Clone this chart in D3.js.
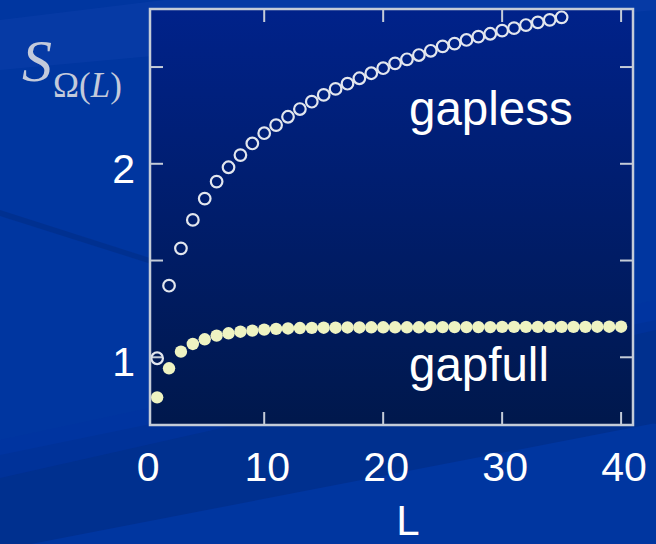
<!DOCTYPE html>
<html>
<head>
<meta charset="utf-8">
<script src="https://cdn.jsdelivr.net/npm/d3@7/dist/d3.min.js"></script>
<style>
  html, body { margin: 0; padding: 0; background: #0036a0; }
  svg { display: block; }
</style>
</head>
<body>
<div id="chart"></div>
<script>
// ---- data ----
const gaplessL = d3.range(1, 36);
const gaplessS = [0.995, 1.370, 1.563, 1.710, 1.820, 1.908, 1.982, 2.045, 2.105, 2.158,
                  2.200, 2.243, 2.283, 2.321, 2.356, 2.387, 2.414, 2.442, 2.468, 2.494,
                  2.519, 2.540, 2.562, 2.584, 2.607, 2.621, 2.640, 2.657, 2.672, 2.688,
                  2.701, 2.717, 2.731, 2.744, 2.757];
const gapfullL = d3.range(1, 41);
const gapfullS = [0.793, 0.943, 1.029, 1.069, 1.093, 1.112, 1.124, 1.132, 1.138, 1.143,
                  1.147, 1.149, 1.151, 1.152, 1.153, 1.153, 1.154, 1.154, 1.155, 1.155,
                  1.155, 1.155, 1.155, 1.156, 1.156, 1.156, 1.156, 1.156, 1.156, 1.157,
                  1.157, 1.157, 1.157, 1.157, 1.157, 1.157, 1.157, 1.158, 1.158, 1.158];
const xTicks = [0, 10, 20, 30, 40];
const xInnerTicks = [10, 20, 30, 40];
const yTickLabels = [1, 2];
const yInnerTicks = [1, 1.5, 2, 2.5];
const seriesLabels = ["gapless", "gapfull"];
const xTitle = "L";

const W = 656, H = 544;
const plot = { left: 150, right: 633, top: 9, bottom: 425 };

const x = d3.scaleLinear().domain([0.4, 41.0]).range([plot.left, plot.right]);
const y = d3.scaleLinear().domain([0.65, 2.80]).range([plot.bottom, plot.top]);

const svg = d3.select("#chart").append("svg").attr("width", W).attr("height", H);
const defs = svg.append("defs");

const pg = defs.append("linearGradient").attr("id", "plotGrad")
  .attr("x1", 0).attr("y1", 0).attr("x2", 0).attr("y2", 1);
pg.append("stop").attr("offset", "0%").attr("stop-color", "#00228a");
pg.append("stop").attr("offset", "100%").attr("stop-color", "#00184c");

const blur = defs.append("filter").attr("id", "soft");
blur.append("feGaussianBlur").attr("stdDeviation", 0.6);

// ---- slide background ----
svg.append("rect").attr("width", W).attr("height", H).attr("fill", "#0036a0");
const bands = svg.append("g");
bands.append("path").attr("d", "M0,20 L656,-60 L656,10 L0,70 Z").attr("fill", "#0a3ea8").attr("opacity", 0.6);
bands.append("path").attr("d", "M0,210 L656,420 L656,424 L0,216 Z").attr("fill", "#002f8c").attr("opacity", 0.8);
bands.append("path").attr("d", "M0,455 L656,320 L656,423 L0,550 Z").attr("fill", "#00308f");
bands.append("path").attr("d", "M0,440 L656,300 L656,330 L0,478 Z").attr("fill", "#0034a0").attr("opacity", 0.6);

// ---- plot area ----
svg.append("rect")
  .attr("x", plot.left).attr("y", plot.top)
  .attr("width", plot.right - plot.left).attr("height", plot.bottom - plot.top)
  .attr("fill", "url(#plotGrad)");

const frameColor = "#c4ccd8";
const tickLen = 13;
const axes = svg.append("g").attr("stroke", frameColor).attr("stroke-width", 2);
axes.selectAll(".tb").data(xInnerTicks).join("line")
  .attr("x1", d => x(d)).attr("x2", d => x(d))
  .attr("y1", plot.bottom).attr("y2", plot.bottom - tickLen);
axes.selectAll(".tt").data(xInnerTicks).join("line")
  .attr("x1", d => x(d)).attr("x2", d => x(d))
  .attr("y1", plot.top).attr("y2", plot.top + tickLen);
axes.selectAll(".tl").data(yInnerTicks).join("line")
  .attr("y1", d => y(d)).attr("y2", d => y(d))
  .attr("x1", plot.left).attr("x2", plot.left + tickLen);
axes.selectAll(".tr").data(yInnerTicks).join("line")
  .attr("y1", d => y(d)).attr("y2", d => y(d))
  .attr("x1", plot.right).attr("x2", plot.right - tickLen);

// ---- data marks ----
const marks = svg.append("g").attr("filter", "url(#soft)");
marks.selectAll(".gf").data(gapfullL).join("circle")
  .attr("cx", d => x(d)).attr("cy", (d, i) => y(gapfullS[i]))
  .attr("r", 6.2).attr("fill", "#eef3c2");
marks.selectAll(".gl").data(gaplessL).join("circle")
  .attr("cx", d => x(d)).attr("cy", (d, i) => y(gaplessS[i]))
  .attr("r", 5.8).attr("fill", "none").attr("stroke", "#e2e6ee").attr("stroke-width", 2.2);

// frame on top
svg.append("rect")
  .attr("x", plot.left).attr("y", plot.top)
  .attr("width", plot.right - plot.left).attr("height", plot.bottom - plot.top)
  .attr("fill", "none").attr("stroke", frameColor).attr("stroke-width", 2.5);

// ---- text ----
const font = "'Liberation Sans', Arial, sans-serif";
svg.append("g").selectAll("text").data(xTicks).join("text")
  .attr("x", d => x(d) + 3).attr("y", 481)
  .attr("text-anchor", "middle")
  .attr("font-family", font).attr("font-size", 41).attr("fill", "#ffffff")
  .text(d => d);

svg.append("g").selectAll("text").data(yTickLabels).join("text")
  .attr("x", 135).attr("y", d => y(d) + 19)
  .attr("text-anchor", "end")
  .attr("font-family", font).attr("font-size", 41).attr("fill", "#ffffff")
  .text(d => d);

svg.append("text").attr("x", 408).attr("y", 535)
  .attr("text-anchor", "middle")
  .attr("font-family", font).attr("font-size", 42).attr("fill", "#ffffff")
  .text(xTitle);

svg.append("text").attr("x", 409).attr("y", 125)
  .attr("font-family", font).attr("font-size", 47.5).attr("fill", "#ffffff")
  .text(seriesLabels[0]);
svg.append("text").attr("x", 409).attr("y", 381)
  .attr("font-family", font).attr("font-size", 47.5).attr("fill", "#ffffff")
  .text(seriesLabels[1]);

// y title S_{Ω(L)}
const serif = "'Liberation Serif', 'Times New Roman', serif";
const yt = svg.append("text").attr("x", 22).attr("y", 81)
  .attr("font-family", serif).attr("fill", "#c3cadb");
yt.append("tspan").attr("font-size", 60).attr("font-style", "italic").text("S");
const sub = yt.append("tspan").attr("font-size", 35).attr("dy", 16).attr("dx", 1);
sub.text("Ω(");
yt.append("tspan").attr("font-size", 35).attr("font-style", "italic").text("L");
yt.append("tspan").attr("font-size", 35).text(")");
</script>
</body>
</html>
